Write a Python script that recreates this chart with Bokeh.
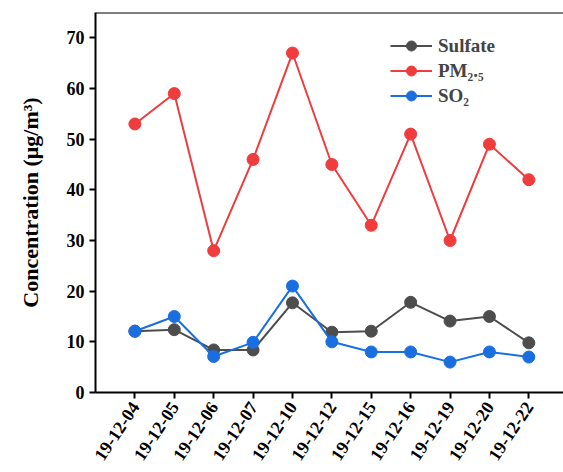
from bokeh.plotting import figure
from bokeh.models import FixedTicker, Span, Legend, LegendItem, Range1d
from bokeh.embed import file_html
from bokeh.resources import INLINE

dates = ["19-12-04", "19-12-05", "19-12-06", "19-12-07", "19-12-10", "19-12-12",
         "19-12-15", "19-12-16", "19-12-19", "19-12-20", "19-12-22"]
sulfate = [12.1, 12.4, 8.4, 8.4, 17.7, 11.9, 12.1, 17.8, 14.1, 15.0, 9.8]
pm25 = [53, 59, 28, 46, 67, 45, 33, 51, 30, 49, 42]
so2 = [12.1, 15.0, 7.1, 9.9, 21.0, 10.0, 8.0, 8.0, 6.0, 8.0, 7.0]
y_ticks = [0, 10, 20, 30, 40, 50, 60, 70]

xs = list(range(1, len(dates) + 1))
FONT = "Liberation Serif"

p = figure(width=563, height=472, output_backend="svg", toolbar_location=None,
           min_border_left=95, min_border_right=0, min_border_top=12, min_border_bottom=80,
           x_range=Range1d(0, 11.88), y_range=Range1d(0, 75))
p.outline_line_color = None
p.xgrid.grid_line_color = None
p.ygrid.grid_line_color = None
p.background_fill_color = "white"
p.border_fill_color = "white"

colors = {"Sulfate": "#4d4d4d", "PM": "#f03c3c", "SO2": "#1a6fe0"}

r_s = p.line(xs, sulfate, line_color=colors["Sulfate"], line_width=2)
c_s = p.scatter(xs, sulfate, size=12, fill_color=colors["Sulfate"], line_color=colors["Sulfate"])
r_p = p.line(xs, pm25, line_color=colors["PM"], line_width=2)
c_p = p.scatter(xs, pm25, size=12, fill_color=colors["PM"], line_color=colors["PM"])
r_o = p.line(xs, so2, line_color=colors["SO2"], line_width=2)
c_o = p.scatter(xs, so2, size=12, fill_color=colors["SO2"], line_color=colors["SO2"])

legend = Legend(items=[
    LegendItem(label="Sulfate", renderers=[r_s, c_s]),
    LegendItem(label="PM\u2082.\u2085", renderers=[r_p, c_p]),
    LegendItem(label="SO\u2082", renderers=[r_o, c_o]),
], location=(295, 284))
legend.border_line_color = None
legend.background_fill_alpha = 0
legend.padding = 0
legend.margin = 0
legend.spacing = 0
legend.glyph_width = 42
legend.glyph_height = 25
legend.label_height = 25
legend.label_standoff = 6
legend.label_text_font = FONT
legend.label_text_font_style = "bold"
legend.label_text_font_size = "19px"
p.add_layout(legend)

# top frame border
p.add_layout(Span(location=75, dimension="width", line_color="black", line_width=2))

xa = p.xaxis[0]
xa.ticker = FixedTicker(ticks=xs)
xa.major_label_overrides = {x: d for x, d in zip(xs, dates)}
xa.major_label_orientation = 0.98
ya = p.yaxis[0]
ya.ticker = FixedTicker(ticks=y_ticks)
ya.axis_label = "Concentration (\u03bcg/m\u00b3)"
ya.axis_label_text_font = FONT
ya.axis_label_text_font_style = "bold"
ya.axis_label_text_font_size = "22px"
ya.axis_label_text_color = "black"
ya.axis_label_standoff = 21

for ax in (xa, ya):
    ax.axis_line_width = 2
    ax.axis_line_color = "black"
    ax.major_tick_line_width = 2
    ax.major_tick_line_color = "black"
    ax.major_tick_in = 0
    ax.major_tick_out = 6
    ax.minor_tick_line_color = None
    ax.major_label_text_font = FONT
    ax.major_label_text_font_style = "bold"
    ax.major_label_text_font_size = "18px"
    ax.major_label_text_color = "black"
    ax.major_label_standoff = 5

open("out.html", "w").write(file_html(p, INLINE))
